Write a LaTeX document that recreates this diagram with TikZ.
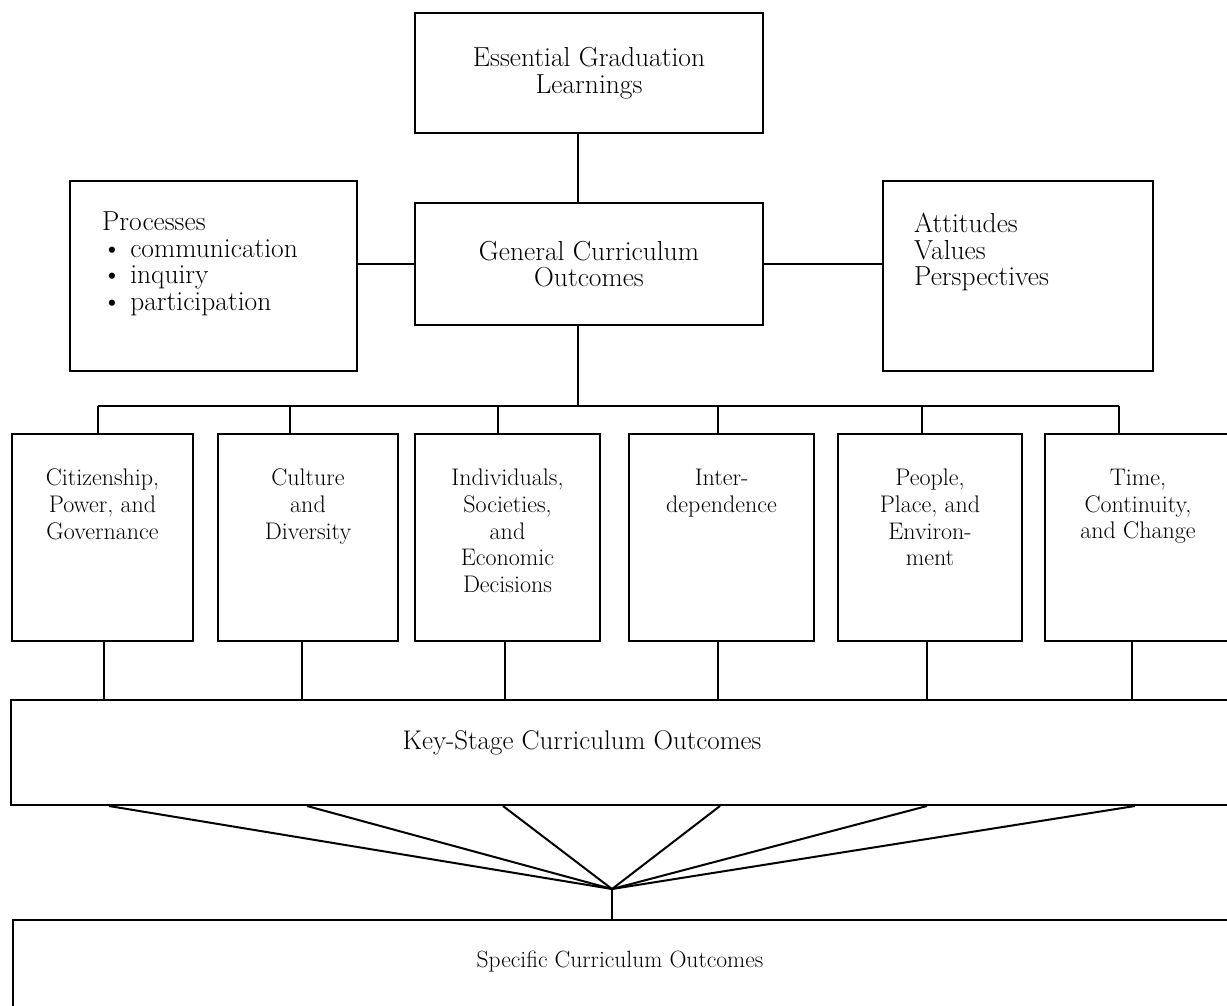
\documentclass[tikz,border=0pt]{standalone}
\usetikzlibrary{positioning}
\tikzset{
  box/.style={draw, line width=2pt, inner sep=0pt, anchor=north west},
  link/.style={line width=2pt},
  big/.style={font=\fontsize{27.5}{26.5}\selectfont},
  small/.style={font=\fontsize{24}{26.7}\selectfont},
  lbl/.style={inner sep=0pt, align=center},
}
\begin{document}
\begin{tikzpicture}[x=1pt,y=-1pt]
\useasboundingbox (0,0) rectangle (1227,1006);
% upper part
\node[box, big, align=center, minimum width=348pt, minimum height=120pt] (egl) at (414,12) {Essential Graduation\\Learnings};
\node[box, big, align=center, minimum width=348pt, minimum height=122pt] (gco) at (414,202) {General Curriculum\\Outcomes};
\node[box, minimum width=287pt, minimum height=190pt] (proc) at (69,180) {};
\node[lbl, big, align=left, anchor=north west] (proctext) at (102,212) {Processes\\\textbullet\ communication\\\textbullet\ inquiry\\\textbullet\ participation};
\node[box, minimum width=270pt, minimum height=190pt] (att) at (882,180) {};
\node[lbl, big, align=left, anchor=north west] (atttext) at (914,213) {Attitudes\\Values\\Perspectives};
\coordinate (spine) at (578,0);
\draw[link] (egl.south -| spine) -- (gco.north -| spine);
\draw[link] (gco.west) -- (gco.west -| proc.east);
\draw[link] (gco.east) -- (gco.east -| att.west);
\coordinate (bus) at (578,406);
\draw[link] (gco.south -| spine) -- (bus);
% strands
\node[box, minimum width=181pt, minimum height=207pt] (cpg) at (11,433) {};
\node[box, minimum width=180pt, minimum height=207pt] (cd) at (217,433) {};
\node[box, minimum width=185pt, minimum height=207pt] (ised) at (414,433) {};
\node[box, minimum width=185pt, minimum height=207pt] (inter) at (628,433) {};
\node[box, minimum width=184pt, minimum height=207pt] (ppe) at (837,433) {};
\node[box, minimum width=186pt, minimum height=207pt] (tcc) at (1044,433) {};
\node[lbl, small, below=36pt of cpg.north] (cpgtext) {Citizenship,\\Power, and\\Governance};
\node[lbl, small, below=36pt of cd.north] (cdtext) {Culture\\and\\Diversity};
\node[lbl, small, below=36pt of ised.north] (isedtext) {Individuals,\\Societies,\\and\\Economic\\Decisions};
\node[lbl, small, below=36pt of inter.north] (intertext) {Inter-\\dependence};
\node[lbl, small, below=36pt of ppe.north] (ppetext) {People,\\Place, and\\Environ-\\ment};
\node[lbl, small, below=36pt of tcc.north] (tcctext) {Time,\\Continuity,\\and Change};
% lower part
\node[box, minimum width=1230pt, minimum height=105pt] (ks) at (10,699) {};
\node[lbl, font=\fontsize{27}{28}\selectfont] (kstext) at (582,743) {Key-Stage Curriculum Outcomes};
\node[box, minimum width=1230pt, minimum height=120pt] (sco) at (12,919) {};
\node[lbl, font=\fontsize{23.5}{26}\selectfont] (scotext) at (620,962) {Specific Curriculum Outcomes};
% bus and drops
\foreach \b/\x/\y in {cpg/98/104, cd/290/302, ised/498/505, inter/718/718, ppe/922/927, tcc/1119/1132}{
  \coordinate (up) at (\x,406);
  \coordinate (down) at (\y,0);
  \draw[link] (up) -- (\b.north -| up);
  \draw[link] (\b.south -| down) -- (ks.north -| down);
}
\draw[link] (98,406) -- (1119,406);
% fan
\coordinate (hub) at (612,889);
\foreach \x in {109,307,503,720,927,1135}{
  \coordinate (f) at (\x,0);
  \draw[link] (ks.south -| f) -- (hub);
}
\draw[line width=1.2pt] (hub) -- (sco.north -| hub);
\end{tikzpicture}
\end{document}
